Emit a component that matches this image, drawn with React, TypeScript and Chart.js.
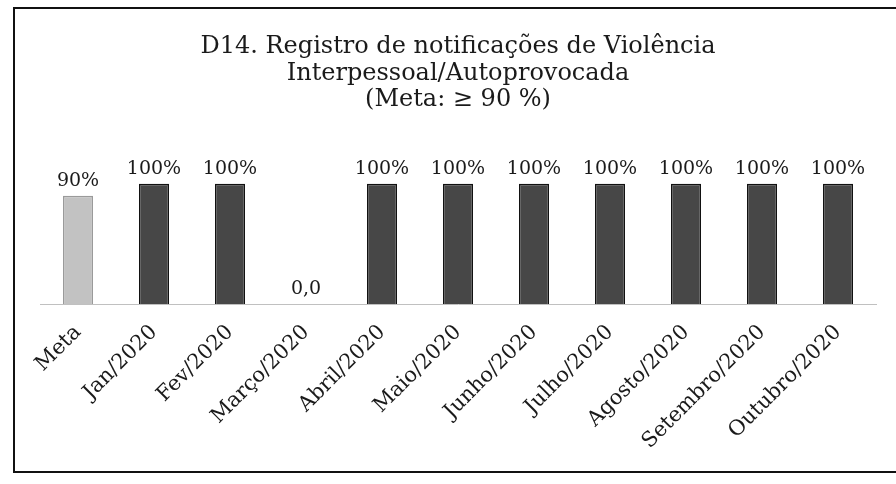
import React, { useEffect, useRef } from "react";
import { Chart, registerables } from "chart.js";

Chart.register(...registerables);

const categories = [
  "Meta",
  "Jan/2020",
  "Fev/2020",
  "Março/2020",
  "Abril/2020",
  "Maio/2020",
  "Junho/2020",
  "Julho/2020",
  "Agosto/2020",
  "Setembro/2020",
  "Outubro/2020",
];
const values = [90, 100, 100, 0, 100, 100, 100, 100, 100, 100, 100];
const titleLines = [
  "D14. Registro de notificações de Violência",
  "Interpessoal/Autoprovocada",
  "(Meta: ≥ 90 %)",
];

const FONT = "'DejaVu Serif', 'Liberation Serif', serif";

const valueLabels = {
  id: "valueLabels",
  afterDatasetsDraw(chart: any) {
    const ctx = chart.ctx;
    const meta = chart.getDatasetMeta(0);
    ctx.save();
    ctx.font = `19px ${FONT}`;
    ctx.fillStyle = "#1a1a1a";
    ctx.textAlign = "center";
    ctx.textBaseline = "bottom";
    meta.data.forEach((bar: any, i: number) => {
      const v = values[i];
      const txt = v === 0 ? "0,0" : `${v}%`;
      ctx.fillText(txt, bar.x, bar.y - 5);
    });
    ctx.restore();
  },
};

export default function App() {
  const ref = useRef<HTMLCanvasElement | null>(null);
  useEffect(() => {
    if (!ref.current) return;
    const chart = new Chart(ref.current, {
      type: "bar",
      data: {
        labels: categories,
        datasets: [
          {
            data: values,
            backgroundColor: values.map((_, i) => (i === 0 ? "#c2c2c2" : "#474747")),
            borderColor: values.map((_, i) => (i === 0 ? "#9a9a9a" : "#111111")),
            borderWidth: 1.5,
            categoryPercentage: 1,
            barPercentage: 0.395,
          },
        ],
      },
      options: {
        animation: false,
        responsive: false,
        maintainAspectRatio: false,
        layout: { padding: { left: 40, right: 20, top: 34, bottom: 22 } },
        plugins: {
          legend: { display: false },
          tooltip: { enabled: false },
          title: {
            display: true,
            text: titleLines,
            color: "#1a1a1a",
            font: { family: FONT, size: 24, weight: "normal", lineHeight: 1.1 },
            padding: { top: 0, bottom: 20 },
          },
        },
        scales: {
          x: {
            grid: { display: false },
            border: { display: true, color: "#c0c0c0", dash: [1, 4], width: 1 },
            ticks: {
              color: "#1a1a1a",
              font: { family: FONT, size: 21 },
              minRotation: 45,
              maxRotation: 45,
              padding: 8,
            },
          },
          y: {
            display: false,
            min: 0,
            max: 142,
          },
        },
      },
      plugins: [valueLabels],
    });
    return () => chart.destroy();
  }, []);
  return (
    <div style={{ position: "absolute", left: 0, top: 0, width: 896, height: 484, background: "#fff", overflow: "hidden" }}>
      <div
        style={{
          position: "absolute",
          left: 13,
          top: 7,
          width: 900,
          height: 466,
          border: "2px solid #111",
          boxSizing: "border-box",
        }}
      />
      <canvas ref={ref} width={896} height={484} style={{ position: "absolute", left: 0, top: 0 }} />
    </div>
  );
}
